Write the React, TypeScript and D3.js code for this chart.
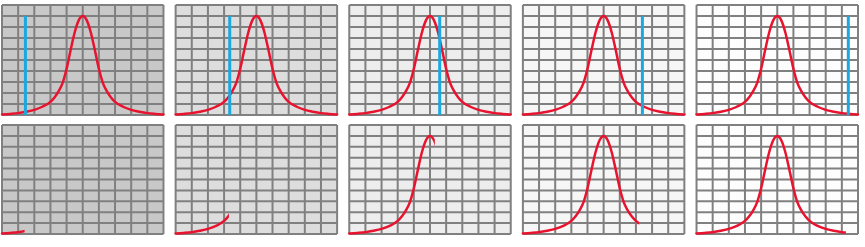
import React from "react";
import * as d3 from "d3";

// Curve samples (x in grid columns 0..10, y in grid rows 0..10)
const curveX = [0, 0.5, 1, 1.5, 2, 2.5, 3, 3.25, 3.5, 3.75, 4, 4.25, 4.5, 4.75, 5, 5.25, 5.5, 5.75, 6, 6.25, 6.5, 6.75, 7, 7.5, 8, 8.5, 9, 9.5, 10];
const curveY = [0.05, 0.1, 0.17, 0.3, 0.47, 0.75, 1.2, 1.6, 2.15, 2.9, 4.2, 5.9, 7.5, 8.6, 9, 8.6, 7.5, 5.9, 4.2, 2.9, 2.15, 1.6, 1.2, 0.75, 0.47, 0.3, 0.17, 0.1, 0.05];

// Blue cursor positions (top row) and drawn extent (bottom row), in columns
const cursorX = [1.45, 3.35, 5.6, 7.4, 9.4];
const cursorTop = [9, 9, 9, 9, 9];
const drawnTo = [1.4, 3.3, 5.3, 7.2, 9.25];

// Panel backgrounds
const panelFill = ["#c8c8c8", "#dddddd", "#ededed", "#f6f6f6", "#fdfdfd"];

const gridTicks = d3.range(0, 11);

const W = 865;
const H = 247;
const GRID = "#808080";
const RED = "#e8132f";
const BLUE = "#1aa8e0";

const rows = [
  { top: 5, height: 110, kind: "cursor" },
  { top: 125, height: 109, kind: "drawn" },
];

export default function App() {
  const band = d3
    .scaleBand<number>()
    .domain(d3.range(panelFill.length))
    .range([2, 858])
    .paddingInner(0.07)
    .paddingOuter(0);
  const bw = band.bandwidth();
  const pts: [number, number][] = curveX.map((x, i) => [x, curveY[i]]);

  return (
    <svg
      width={W}
      height={H}
      style={{ position: "absolute", left: 0, top: 0, background: "#fff" }}
    >
      {rows.map((row, ri) =>
        panelFill.map((fill, pi) => {
          const x0 = band(pi)!;
          const xs = d3.scaleLinear().domain([0, 10]).range([x0, x0 + bw]);
          const ys = d3.scaleLinear().domain([0, 10]).range([row.top + row.height, row.top]);
          const line = d3
            .line<[number, number]>()
            .x((d) => xs(d[0]))
            .y((d) => ys(d[1]))
            .curve(d3.curveMonotoneX);
          const clipId = `clip-${ri}-${pi}`;
          const clipRight = row.kind === "drawn" ? xs(drawnTo[pi]) : x0 + bw + 2;
          return (
            <g key={`${ri}-${pi}`}>
              <rect x={x0} y={row.top} width={bw} height={row.height} fill={fill} />
              {gridTicks.map((t) => (
                <line
                  key={`v${t}`}
                  x1={xs(t)}
                  x2={xs(t)}
                  y1={row.top}
                  y2={row.top + row.height}
                  stroke={GRID}
                  strokeWidth={2}
                />
              ))}
              {gridTicks.map((t) => (
                <line
                  key={`h${t}`}
                  x1={x0}
                  x2={x0 + bw}
                  y1={ys(t)}
                  y2={ys(t)}
                  stroke={GRID}
                  strokeWidth={2}
                />
              ))}
              <clipPath id={clipId}>
                <rect x={x0 - 3} y={row.top - 3} width={clipRight - x0 + 3} height={row.height + 6} />
              </clipPath>
              <path
                d={line(pts) || ""}
                fill="none"
                stroke={RED}
                strokeWidth={2.5}
                strokeLinecap="round"
                clipPath={`url(#${clipId})`}
              />
              {row.kind === "cursor" && (
                <line
                  x1={xs(cursorX[pi])}
                  x2={xs(cursorX[pi])}
                  y1={ys(cursorTop[pi])}
                  y2={ys(0)}
                  stroke={BLUE}
                  strokeWidth={3}
                />
              )}
            </g>
          );
        })
      )}
    </svg>
  );
}
